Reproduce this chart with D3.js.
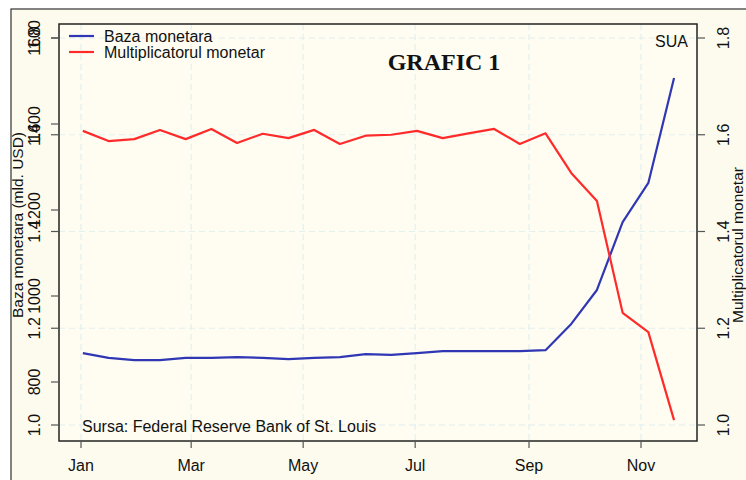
<!DOCTYPE html>
<html><head><meta charset="utf-8">
<script src="https://cdn.jsdelivr.net/npm/d3@7"></script>
<style>
html,body{margin:0;padding:0;background:#fff;}
svg{display:block;font-family:"Liberation Sans",Arial,sans-serif;}
</style></head>
<body>
<svg id="chart" width="746" height="480"></svg>
<script>
// biweekly observations, 2008
const dates = ["2008-01-02","2008-01-16","2008-01-30","2008-02-13","2008-02-27","2008-03-12","2008-03-26","2008-04-09","2008-04-23","2008-05-07","2008-05-21","2008-06-04","2008-06-18","2008-07-02","2008-07-16","2008-07-30","2008-08-13","2008-08-27","2008-09-10","2008-09-24","2008-10-08","2008-10-22","2008-11-05","2008-11-19"];
const bazaMonetara = [867,856,851,851,856,856,858,856,853,856,858,865,863,867,872,872,872,872,874,935,1014,1172,1263,1507];
const multiplicator = [1.608,1.587,1.591,1.610,1.591,1.612,1.583,1.602,1.593,1.610,1.581,1.598,1.600,1.608,1.593,1.603,1.612,1.581,1.603,1.521,1.463,1.232,1.192,1.010];
const monthTicks = ["2008-01-01","2008-03-01","2008-05-01","2008-07-01","2008-09-01","2008-11-01"];
const monthLabels = ["Jan","Mar","May","Jul","Sep","Nov"];
const leftTicks = [800,1000,1200,1400,1600];
const multTicks = [1.0,1.2,1.4,1.6,1.8];
const seriesNames = ["Baza monetara","Multiplicatorul monetar"];
const seriesColors = ["#2f37b4","#ff2a2a"];

const svg = d3.select("#chart");
const parse = d3.utcParse("%Y-%m-%d");
const P = {l:59, r:697, t:24, b:441};

const x = d3.scaleUtc().domain([parse("2008-01-01"), parse("2008-11-01")]).range([81, 641]);
const yL = d3.scaleLinear().domain([800,1600]).range([382,38]);
const yR = d3.scaleLinear().domain([1.0,1.8]).range([425,38]);

// outer frame
svg.append("rect").attr("x",11).attr("y",9).attr("width",760).attr("height",500)
  .attr("fill","#fdfbee").attr("stroke","#333").attr("stroke-width",1.2);

// plot background
svg.append("rect").attr("x",P.l).attr("y",P.t).attr("width",P.r-P.l).attr("height",P.b-P.t)
  .attr("fill","#fffdf1");

// grid
const grid = svg.append("g").attr("stroke","#e2f0ee").attr("stroke-width",1.2).attr("stroke-dasharray","6,4");
grid.selectAll("line.v").data(monthTicks).join("line")
  .attr("x1",d=>x(parse(d))).attr("x2",d=>x(parse(d))).attr("y1",P.t).attr("y2",P.b);
grid.selectAll("line.h").data(multTicks).join("line")
  .attr("y1",d=>yR(d)).attr("y2",d=>yR(d)).attr("x1",P.l).attr("x2",P.r);

// lines
const gB = d3.line().x((d,i)=>x(parse(dates[i]))).y(d=>yL(d));
const gR = d3.line().x((d,i)=>x(parse(dates[i]))).y(d=>yR(d));
svg.append("path").datum(bazaMonetara).attr("d",gB).attr("fill","none")
  .attr("stroke",seriesColors[0]).attr("stroke-width",2.2).attr("stroke-linejoin","round");
svg.append("path").datum(multiplicator).attr("d",gR).attr("fill","none")
  .attr("stroke",seriesColors[1]).attr("stroke-width",2.2).attr("stroke-linejoin","round");

// plot box
svg.append("rect").attr("x",P.l).attr("y",P.t).attr("width",P.r-P.l).attr("height",P.b-P.t)
  .attr("fill","none").attr("stroke","#222").attr("stroke-width",1.5);

const tickCol = "#555";
const fs = 16;
// x axis
const xa = svg.append("g");
xa.selectAll("line").data(monthTicks).join("line")
  .attr("x1",d=>x(parse(d))).attr("x2",d=>x(parse(d))).attr("y1",P.b).attr("y2",P.b+7)
  .attr("stroke",tickCol).attr("stroke-width",1.2);
xa.selectAll("text").data(monthTicks).join("text")
  .attr("x",d=>x(parse(d))).attr("y",471).attr("text-anchor","middle")
  .attr("font-size",fs).attr("fill","#111").text((d,i)=>monthLabels[i]);

// left axis: both sets
function vlabel(g, xpos, ypos, txt, size){
  g.append("text").attr("transform",`translate(${xpos},${ypos}) rotate(-90)`)
    .attr("text-anchor","middle").attr("font-size",size||fs).attr("fill","#111").text(txt);
}
const la = svg.append("g");
leftTicks.forEach(v=>{
  la.append("line").attr("x1",51).attr("x2",P.l).attr("y1",yL(v)).attr("y2",yL(v)).attr("stroke",tickCol).attr("stroke-width",1.2);
  vlabel(la, 40, yL(v), String(v));
});
multTicks.forEach(v=>{
  la.append("line").attr("x1",51).attr("x2",P.l).attr("y1",yR(v)).attr("y2",yR(v)).attr("stroke",tickCol).attr("stroke-width",1.2);
  vlabel(la, 40, yR(v), d3.format(".1f")(v));
});
// right axis
const ra = svg.append("g");
multTicks.forEach(v=>{
  ra.append("line").attr("x1",P.r).attr("x2",P.r+8).attr("y1",yR(v)).attr("y2",yR(v)).attr("stroke",tickCol).attr("stroke-width",1.2);
  vlabel(ra, 729, yR(v), d3.format(".1f")(v));
});

// axis titles
vlabel(svg, 23, 225, "Baza monetara (mld. USD)", 15.5);
vlabel(svg, 743, 245, "Multiplicatorul monetar", 15.5);

// legend
const lg = svg.append("g");
seriesNames.forEach((n,i)=>{
  const yy = 36 + i*16;
  lg.append("line").attr("x1",69).attr("x2",94).attr("y1",yy).attr("y2",yy)
    .attr("stroke",seriesColors[i]).attr("stroke-width",2.2);
  lg.append("text").attr("x",104).attr("y",yy+6).attr("font-size",fs).attr("fill","#111").text(n);
});

// title, country, source
svg.append("text").attr("x",444).attr("y",70).attr("text-anchor","middle")
  .attr("font-family","'Liberation Serif','Times New Roman',serif").attr("font-weight","bold")
  .attr("font-size",24).attr("fill","#111").text("GRAFIC 1");
svg.append("text").attr("x",688).attr("y",47).attr("text-anchor","end")
  .attr("font-size",fs).attr("fill","#111").text("SUA");
svg.append("text").attr("x",82).attr("y",432)
  .attr("font-size",fs).attr("fill","#111").text("Sursa: Federal Reserve Bank of St. Louis");
</script>
</body></html>
